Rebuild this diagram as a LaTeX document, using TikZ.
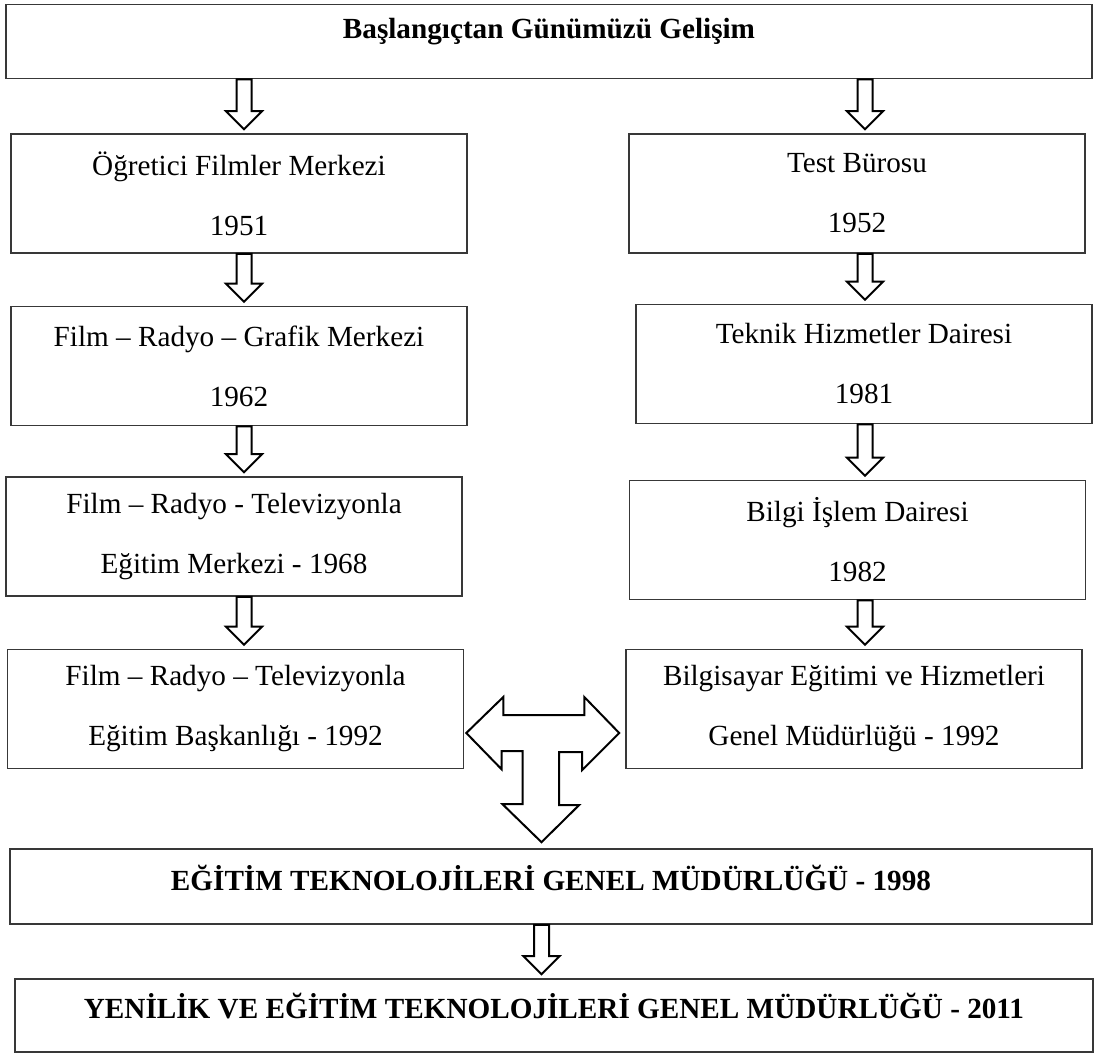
\documentclass[tikz,border=0pt]{standalone}
\usepackage{fontspec}
\setmainfont{Liberation Serif}
\usetikzlibrary{calc}
\definecolor{bd}{HTML}{383838}

\begin{document}
\begin{tikzpicture}[x=0.5pt, y=-0.5pt,
    box/.style={draw=bd, line width=0.8pt, inner sep=0pt, minimum width=228pt, minimum height=59.5pt, align=center, font=\fontsize{14.6pt}{30pt}\selectfont},
    wide/.style={box, minimum height=37pt, font=\fontsize{14.6pt}{30pt}\selectfont\bfseries},
    blk/.style={draw=black, line width=1pt, fill=white}]

    \useasboundingbox (0,0) rectangle (1094,1054);

    \node[wide, minimum width=543pt, text depth=13pt] (gelisim) at (549,41.5) {Başlangıçtan Günümüzü Gelişim};

    % left column
    \node[box] (ofm) at (239,193.5) {Öğretici Filmler Merkezi\\1951};
    \node[box] (frgm) at (239,366) {Film – Radyo – Grafik Merkezi\\1962};
    \node[box] (frtem) at (234,536.5) {Film – Radyo - Televizyonla\\Eğitim Merkezi - 1968};
    \node[box] (frteb) at (235.5,709) {Film – Radyo – Televizyonla\\Eğitim Başkanlığı - 1992};

    % right column
    \node[box] (test) at (857,193.5) {Test Bürosu\\1952};
    \node[box] (thd) at (864,364) {Teknik Hizmetler Dairesi\\1981};
    \node[box] (bid) at (857.5,540) {Bilgi İşlem Dairesi\\1982};
    \node[box] (begm) at (854,709) {Bilgisayar Eğitimi ve Hizmetleri\\Genel Müdürlüğü - 1992};

    \node[wide, minimum width=541pt, minimum height=37.5pt, text depth=9pt] (egitek) at (551,886.5) {EĞİTİM TEKNOLOJİLERİ GENEL MÜDÜRLÜĞÜ - 1998};
    \node[wide, minimum width=539pt, minimum height=36.5pt, text depth=10pt] (yegitek) at (554,1015.5) {YENİLİK VE EĞİTİM TEKNOLOJİLERİ GENEL MÜDÜRLÜĞÜ - 2011};

    \coordinate (lc) at (244,0);
    \coordinate (rc) at (865,0);
    \coordinate (mc) at (541.5,733);

    \foreach \fr/\tn/\cl in {gelisim/ofm/lc, ofm/frgm/lc, frgm/frtem/lc, frtem/frteb/lc,
            gelisim/test/rc, test/thd/rc, thd/bid/rc, bid/begm/rc, egitek/yegitek/mc} {
            \draw[blk] ($(\fr.south -| \cl)+(-7.5,0)$) -- ($(\tn.north -| \cl)+(-7.5,-22)$) -- ++(-10.5,0)
                -- ($(\tn.north -| \cl)+(0,-4)$) -- ++(18,-18) -- ++(-10.5,0) -- ($(\fr.south -| \cl)+(7.5,0)$) -- cycle;
        }

    % joining arrow
    \draw[blk] ($(frteb.east |- mc)+(2,0)$) -- ++(37,-36) -- ++(0,18) -- ++(81,0) -- ++(0,-18)
        -- ($(begm.west |- mc)+(-6,0)$) -- ++(-37,37) -- ++(0,-18) -- ++(-23,0) -- ++(0,53) -- ++(20,0)
        -- ($(egitek.north -| mc)+(0,-6)$) -- ++(-39,-38) -- ++(20,0) -- ++(0,-53) -- ++(-21,0) -- ++(0,18) -- cycle;

\end{tikzpicture}
\end{document}
